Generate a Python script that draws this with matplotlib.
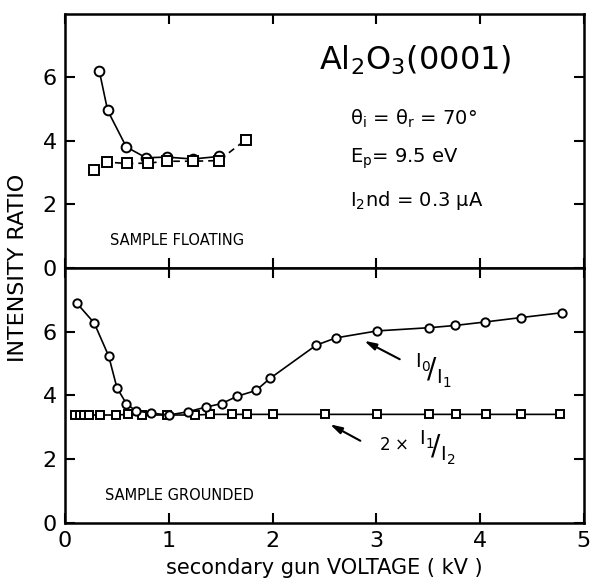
#!/usr/bin/env python3
##
# Intensity ratio vs secondary gun voltage, Al2O3(0001)
# two stacked panels: sample floating / sample grounded
##

import matplotlib
matplotlib.use('Agg')
import matplotlib.pyplot as plt

# --- sample floating (top panel) ---
float_circ_x = [0.33, 0.41, 0.59, 0.78, 0.98, 1.23, 1.48]
float_circ_y = [6.2, 4.96, 3.81, 3.47, 3.49, 3.43, 3.51]
float_sq_x = [0.28, 0.40, 0.60, 0.80, 0.98, 1.23, 1.48, 1.74]
float_sq_y = [3.07, 3.33, 3.29, 3.30, 3.36, 3.36, 3.38, 4.03]

# --- sample grounded (bottom panel) ---
gnd_circ_x = [0.11, 0.28, 0.42, 0.50, 0.59, 0.68, 0.83, 1.00, 1.18, 1.36, 1.51,
              1.66, 1.84, 1.98, 2.42, 2.61, 3.01, 3.51, 3.76, 4.05, 4.40, 4.79]
gnd_circ_y = [6.9, 6.27, 5.23, 4.23, 3.74, 3.51, 3.44, 3.38, 3.48, 3.63, 3.74,
              3.97, 4.15, 4.54, 5.57, 5.80, 6.02, 6.12, 6.19, 6.30, 6.44, 6.59]
gnd_sq_x = [0.10, 0.14, 0.18, 0.23, 0.34, 0.49, 0.61, 0.74, 0.98, 1.25, 1.40,
            1.61, 1.75, 2.00, 2.51, 3.01, 3.51, 3.77, 4.06, 4.40, 4.77]
gnd_sq_y = [3.38, 3.38, 3.38, 3.38, 3.38, 3.38, 3.40, 3.38, 3.38, 3.38, 3.40,
            3.40, 3.40, 3.40, 3.40, 3.40, 3.40, 3.40, 3.40, 3.40, 3.40]

x_ticks = [0, 1, 2, 3, 4, 5]
y_ticks = [0, 2, 4, 6]

plt.rcParams['font.family'] = ['DejaVu Sans']
plt.rcParams['mathtext.fontset'] = 'dejavusans'

fig = plt.figure(figsize=(5.92, 5.86), dpi=100)
left, right = 0.110, 0.986
bot, mid, top = 0.108, 0.543, 0.976
ax1 = fig.add_axes([left, mid, right - left, top - mid])
ax2 = fig.add_axes([left, bot, right - left, mid - bot])


def style(ax, show_x):
    ax.set_xlim(0, 5)
    ax.set_ylim(0, 8)
    ax.set_xticks(x_ticks)
    ax.set_yticks(y_ticks)
    ax.tick_params(direction='in', length=7, width=1.5, top=True, right=True,
                   labelsize=16, pad=6)
    if not show_x:
        ax.tick_params(labelbottom=False)
    for s in ax.spines.values():
        s.set_linewidth(1.8)


style(ax1, False)
style(ax2, True)

mk = dict(color='black', markerfacecolor='white', markeredgewidth=1.4, lw=1.2)

ax1.plot(float_circ_x, float_circ_y, marker='o', ms=7, **mk)
ax1.plot(float_sq_x, float_sq_y, marker='s', ms=6.5, ls=(0, (4, 3)), **mk)
ax2.plot(gnd_sq_x, gnd_sq_y, marker='s', ms=5.5, **mk)
ax2.plot(gnd_circ_x, gnd_circ_y, marker='o', ms=6, **mk)

# panel texts
ax1.text(0.43, 0.73, 'SAMPLE FLOATING', fontsize=10.5)
ax2.text(0.38, 0.72, 'SAMPLE GROUNDED', fontsize=10.5)

ax1.text(2.45, 6.25, r'Al$_2$O$_3$(0001)', fontsize=23)
ax1.text(2.75, 4.5, r'θ$_\mathrm{i}$ = θ$_\mathrm{r}$ = 70°', fontsize=14)
ax1.text(2.75, 3.3, r'E$_\mathrm{p}$= 9.5 eV', fontsize=14)
ax1.text(2.75, 1.95, r'I$_\mathrm{2}$nd = 0.3 μA', fontsize=14)

# curve labels with arrows
ax2.annotate('', xy=(2.86, 5.75), xytext=(3.25, 5.09),
             arrowprops=dict(arrowstyle='-|>,head_length=0.7,head_width=0.2',
                             color='black', lw=1.5))
ax2.text(3.55, 4.75, r'$^{\mathrm{I}_0}\!/_{\mathrm{I}_1}$', fontsize=20,
         ha='center', va='center')
ax2.annotate('', xy=(2.53, 3.13), xytext=(2.87, 2.53),
             arrowprops=dict(arrowstyle='-|>,head_length=0.7,head_width=0.2',
                             color='black', lw=1.5))
ax2.text(3.03, 2.45, r'2 $\times$', fontsize=12, ha='left', va='center')
ax2.text(3.59, 2.35, r'$^{\mathrm{I}_1}\!/_{\mathrm{I}_2}$', fontsize=20,
         ha='center', va='center')

ax2.set_xlabel('secondary gun VOLTAGE ( kV )', fontsize=15, labelpad=5)
fig.text(0.03, mid, 'INTENSITY RATIO', rotation=90, fontsize=16,
         ha='center', va='center')

fig.savefig('out.png', dpi=100)
print("done")
